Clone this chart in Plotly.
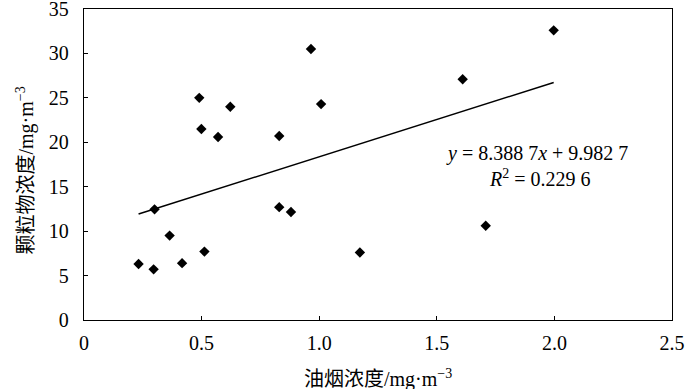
import plotly.graph_objects as go

# Data
oil_smoke = [0.490, 0.499, 0.570, 0.622, 0.830, 0.965, 1.008, 1.997, 1.610,
             0.300, 0.232, 0.296, 0.364, 0.417, 0.512, 0.830, 0.880, 1.173, 1.708]
particles = [25.0, 21.5, 20.6, 24.0, 20.7, 30.5, 24.3, 32.6, 27.1,
             12.45, 6.3, 5.7, 9.5, 6.4, 7.7, 12.7, 12.15, 7.6, 10.6]

# Linear fit coefficients stated in the chart
fit_slope = 8.3887
fit_intercept = 9.9827

x_ticks = [0, 0.5, 1.0, 1.5, 2.0, 2.5]
x_tick_labels = ["0", "0.5", "1.0", "1.5", "2.0", "2.5"]
y_ticks = [0, 5, 10, 15, 20, 25, 30, 35]

font_family = "'Liberation Serif', 'Noto Sans CJK SC', serif"
fs = 20

x_line = [min(oil_smoke), max(oil_smoke)]
y_line = [fit_slope * v + fit_intercept for v in x_line]

fig = go.Figure()
fig.add_trace(go.Scatter(
    x=x_line, y=y_line, mode="lines",
    line=dict(color="black", width=1.5), showlegend=False, hoverinfo="skip"))
fig.add_trace(go.Scatter(
    x=oil_smoke, y=particles, mode="markers",
    marker=dict(symbol="diamond", size=8, color="black"),
    showlegend=False))

# Regression equation (two lines)
fig.add_annotation(
    x=0.7704, y=0.5354, xref="paper", yref="paper",
    text="<i>y</i> = 8.388 7<i>x</i> + 9.982 7",
    showarrow=False, xanchor="center", yanchor="middle",
    font=dict(family=font_family, size=fs, color="black"))
fig.add_annotation(
    x=0.7755, y=0.455, xref="paper", yref="paper",
    text="<i>R</i><sup>2</sup> = 0.229 6",
    showarrow=False, xanchor="center", yanchor="middle",
    font=dict(family=font_family, size=fs, color="black"))

# Axis titles as annotations for exact placement
fig.add_annotation(
    x=0.5, y=-0.187, xref="paper", yref="paper",
    text="油烟浓度/mg·m<sup>−3</sup>", showarrow=False,
    xanchor="center", yanchor="middle",
    font=dict(family=font_family, size=fs, color="black"))
fig.add_annotation(
    x=-0.099, y=0.48, xref="paper", yref="paper",
    text="颗粒物浓度/mg·m<sup>−3</sup>", showarrow=False, textangle=-90,
    xanchor="center", yanchor="middle",
    font=dict(family=font_family, size=fs, color="black"))

fig.update_layout(
    width=700, height=389,
    margin=dict(l=84, r=28, t=9, b=69),
    plot_bgcolor="white", paper_bgcolor="white",
    font=dict(family=font_family, size=fs, color="black"),
)
fig.update_xaxes(
    range=[0, 2.5], tickvals=x_ticks, ticktext=x_tick_labels,
    showgrid=False, zeroline=False, automargin=False,
    showline=True, linecolor="black", linewidth=1.3, mirror=True,
    ticks="inside", ticklen=4, tickcolor="black", tickwidth=1.3,
    ticklabelstandoff=5, ticklabeloverflow="allow",
    tickfont=dict(family=font_family, size=fs, color="black"),
)
fig.update_yaxes(
    range=[0, 35], tickvals=y_ticks,
    showgrid=False, zeroline=False, automargin=False,
    showline=True, linecolor="black", linewidth=1.3, mirror=True,
    ticks="inside", ticklen=4, tickcolor="black", tickwidth=1.3,
    ticklabelstandoff=10, ticklabeloverflow="allow",
    tickfont=dict(family=font_family, size=fs, color="black"),
)

fig.write_html(
    "out.html",
    config={"displayModeBar": False},
    post_script="document.body.style.margin='0';document.body.style.padding='0';",
)
